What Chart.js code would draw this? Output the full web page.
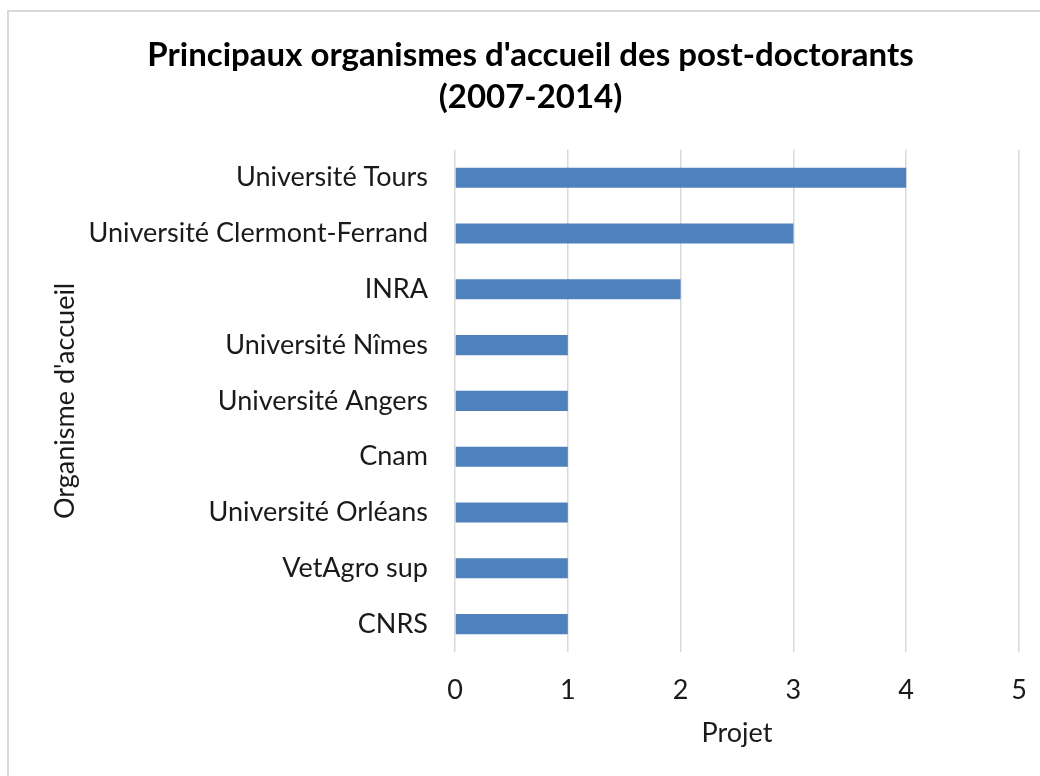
<!DOCTYPE html>
<html lang="fr">
<head>
    <meta charset="UTF-8">
    <title>Principaux organismes d'accueil des post-doctorants</title>
    <script src="https://cdn.jsdelivr.net/npm/chart.js"></script>
    <style>
        body {
            margin: 0;
            background: #ffffff;
            overflow: hidden;
        }
        .frame {
            position: absolute;
            left: 7px;
            top: 10px;
            width: 1060px;
            height: 800px;
            border: 2px solid #d9d9d9;
        }
        .wrap {
            position: absolute;
            left: 0;
            top: 0;
            width: 1040px;
            height: 776px;
        }
    </style>
</head>
<body>
    <div class="frame"></div>
    <div class="wrap"><canvas id="chart"></canvas></div>

    <script>
        const organismes = ['Université Tours', 'Université Clermont-Ferrand', 'INRA', 'Université Nîmes',
            'Université Angers', 'Cnam', 'Université Orléans', 'VetAgro sup', 'CNRS'];
        const projets = [4, 3, 2, 1, 1, 1, 1, 1, 1];
        const xTicks = [0, 1, 2, 3, 4, 5];

        const font = 'Lato, "Open Sans", sans-serif';
        const textColor = '#1a1a1a';

        const ctx = document.getElementById('chart').getContext('2d');
        new Chart(ctx, {
            type: 'bar',
            data: {
                labels: organismes,
                datasets: [{
                    label: 'Projet',
                    data: projets,
                    backgroundColor: '#4f81bd',
                    borderWidth: 0,
                    categoryPercentage: 1,
                    barPercentage: 0.36
                }]
            },
            options: {
                indexAxis: 'y',
                responsive: true,
                maintainAspectRatio: false,
                animation: false,
                layout: { padding: { left: 42, right: 21, top: 34, bottom: 0 } },
                plugins: {
                    legend: { display: false },
                    tooltip: { enabled: false },
                    title: {
                        display: true,
                        text: ["Principaux organismes d'accueil des post-doctorants", '(2007-2014)'],
                        color: '#000000',
                        font: { family: font, size: 33, weight: 'bold', lineHeight: 1.27 },
                        padding: { top: 0, bottom: 32 }
                    }
                },
                scales: {
                    x: {
                        min: 0,
                        max: 5,
                        afterBuildTicks: s => { s.ticks = xTicks.map(v => ({ value: v })); },
                        afterFit: s => {
                            s.height = 124;
                            s.paddingLeft = 0;
                            s.paddingRight = 0;
                        },
                        grid: { color: '#d9d9d9', lineWidth: 1.5, drawTicks: false },
                        border: { display: false },
                        ticks: { color: textColor, font: { family: font, size: 27 }, padding: 22 },
                        title: {
                            display: true,
                            text: 'Projet',
                            color: textColor,
                            font: { family: font, size: 27 },
                            padding: { top: 0, bottom: 27 }
                        }
                    },
                    y: {
                        afterFit: s => { s.width = 455 - 42; },
                        grid: { display: false, drawTicks: false },
                        border: { display: false },
                        ticks: { color: textColor, font: { family: font, size: 27 }, padding: 27 },
                        title: {
                            display: true,
                            text: "Organisme d'accueil",
                            color: textColor,
                            font: { family: font, size: 27 },
                            padding: { top: 7, bottom: 0 }
                        }
                    }
                }
            }
        });
    </script>
</body>
</html>
